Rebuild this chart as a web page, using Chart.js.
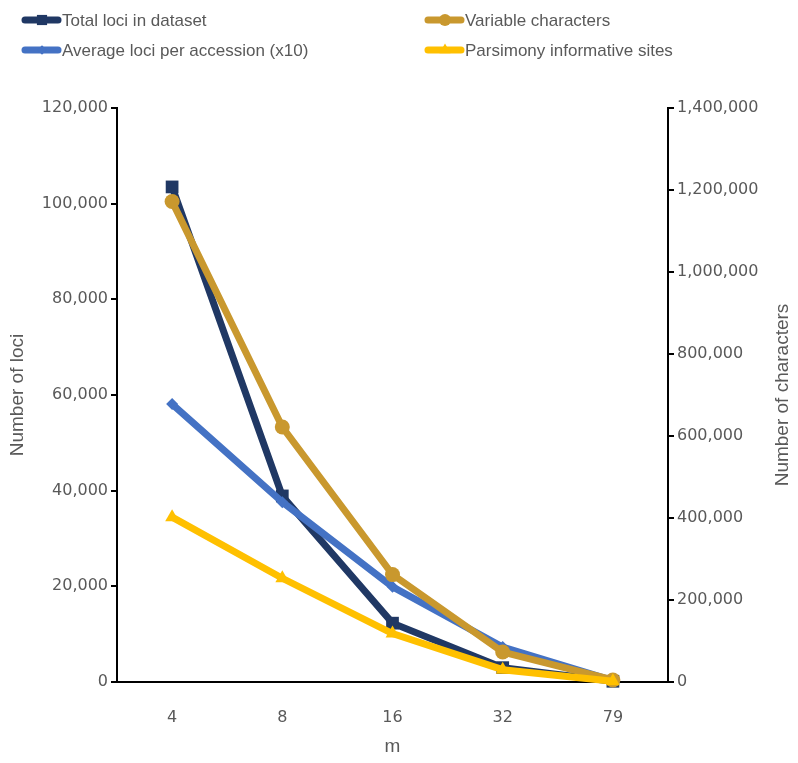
<!DOCTYPE html>
<html lang="en">
<head>
    <meta charset="UTF-8">
    <title>Loci and characters by m</title>
    <script src="https://cdn.jsdelivr.net/npm/chart.js@4.4.1/dist/chart.umd.min.js"></script>
    <style>
        html, body {
            margin: 0;
            padding: 0;
            background-color: #fff;
        }
        #wrap {
            position: relative;
            width: 798px;
            height: 763px;
        }
    </style>
</head>
<body>
    <div id="wrap">
        <canvas id="lociChart"></canvas>
    </div>

    <script>
        // values
        const mValues = ['4', '8', '16', '32', '79'];
        const totalLoci = [103500, 38900, 12300, 3000, 150];
        const avgLociX10 = [58100, 37600, 19900, 7300, 300];
        const variableChars = [1172000, 622000, 262000, 73000, 5000];
        const parsimonySites = [402000, 253000, 118000, 30000, 2000];

        const lociTicks = [0, 20000, 40000, 60000, 80000, 100000, 120000];
        const charTicks = [0, 200000, 400000, 600000, 800000, 1000000, 1200000, 1400000];

        const textColor = '#595959';
        const tickFont = { family: '"DejaVu Sans", sans-serif', size: 16 };
        const titleFont = { family: '"Liberation Sans", Arial, sans-serif', size: 19 };

        function fmt(v) {
            return Number(v).toLocaleString('en-US');
        }

        // legend drawn by hand: two columns, two rows
        const legendSlots = [
            { ds: 0, x: 22, y: 20 },
            { ds: 2, x: 425, y: 20 },
            { ds: 1, x: 22, y: 50 },
            { ds: 3, x: 425, y: 50 }
        ];

        const customLegend = {
            id: 'customLegend',
            afterDraw(chart) {
                const ctx = chart.ctx;
                ctx.save();
                legendSlots.forEach(slot => {
                    const ds = chart.data.datasets[slot.ds];
                    ctx.strokeStyle = ds.borderColor;
                    ctx.lineWidth = 7;
                    ctx.lineCap = 'round';
                    ctx.beginPath();
                    ctx.moveTo(slot.x + 3, slot.y);
                    ctx.lineTo(slot.x + 36, slot.y);
                    ctx.stroke();
                    ctx.fillStyle = ds.backgroundColor;
                    Chart.helpers.drawPoint(ctx, {
                        pointStyle: ds.pointStyle,
                        radius: ds.pointRadius * 0.8,
                        rotation: 0,
                        borderWidth: 0
                    }, slot.x + 20, slot.y);
                    ctx.fillStyle = textColor;
                    ctx.font = '17px "Liberation Sans", Arial, sans-serif';
                    ctx.textAlign = 'left';
                    ctx.textBaseline = 'middle';
                    ctx.fillText(ds.label, slot.x + 40, slot.y + 1);
                });
                ctx.restore();
            }
        };

        // right-hand title reads bottom to top like the left one
        const rightTitle = {
            id: 'rightTitle',
            afterDraw(chart) {
                const ctx = chart.ctx;
                const area = chart.chartArea;
                ctx.save();
                ctx.translate(783, (area.top + area.bottom) / 2);
                ctx.rotate(-Math.PI / 2);
                ctx.fillStyle = textColor;
                ctx.font = titleFont.size + 'px "Liberation Sans", Arial, sans-serif';
                ctx.textAlign = 'center';
                ctx.textBaseline = 'middle';
                ctx.fillText('Number of characters', 0, 0);
                ctx.restore();
            }
        };

        const ctx = document.getElementById('lociChart').getContext('2d');
        const lociChart = new Chart(ctx, {
            type: 'line',
            data: {
                labels: mValues,
                datasets: [
                    {
                        label: 'Total loci in dataset',
                        data: totalLoci,
                        yAxisID: 'y',
                        borderColor: '#203864',
                        backgroundColor: '#203864',
                        pointStyle: 'rect',
                        pointRadius: 9,
                        order: 4
                    },
                    {
                        label: 'Average loci per accession (x10)',
                        data: avgLociX10,
                        yAxisID: 'y',
                        borderColor: '#4472C4',
                        backgroundColor: '#4472C4',
                        pointStyle: 'rectRot',
                        pointRadius: 6,
                        order: 3
                    },
                    {
                        label: 'Variable characters',
                        data: variableChars,
                        yAxisID: 'y2',
                        borderColor: '#C9982E',
                        backgroundColor: '#C9982E',
                        pointStyle: 'circle',
                        pointRadius: 7.5,
                        order: 2
                    },
                    {
                        label: 'Parsimony informative sites',
                        data: parsimonySites,
                        yAxisID: 'y2',
                        borderColor: '#FFC000',
                        backgroundColor: '#FFC000',
                        pointStyle: 'triangle',
                        pointRadius: 8,
                        order: 1
                    }
                ]
            },
            options: {
                responsive: true,
                maintainAspectRatio: false,
                devicePixelRatio: 1,
                animation: false,
                datasets: {
                    line: {
                        borderWidth: 7,
                        tension: 0,
                        pointBorderWidth: 0,
                        pointHoverRadius: 8,
                        clip: false
                    }
                },
                layout: {
                    padding: { top: 108, left: 0, right: 0, bottom: 0 }
                },
                plugins: {
                    legend: { display: false },
                    tooltip: { enabled: false }
                },
                scales: {
                    x: {
                        type: 'category',
                        offset: true,
                        grid: { display: false },
                        border: { display: true, color: '#000', width: 2 },
                        ticks: { color: textColor, font: tickFont, padding: 18 },
                        title: {
                            display: true,
                            text: 'm',
                            color: textColor,
                            font: titleFont,
                            padding: { top: 0, bottom: 5 }
                        },
                        afterFit: s => { s.height = 81; }
                    },
                    y: {
                        position: 'left',
                        min: 0,
                        max: 120000,
                        afterBuildTicks: s => { s.ticks = lociTicks.map(v => ({ value: v })); },
                        grid: {
                            drawOnChartArea: false,
                            drawTicks: true,
                            tickLength: 6,
                            color: '#000',
                            lineWidth: 2
                        },
                        border: { display: true, color: '#000', width: 2 },
                        ticks: {
                            color: textColor,
                            font: tickFont,
                            padding: 3,
                            callback: v => fmt(v)
                        },
                        title: {
                            display: true,
                            text: 'Number of loci',
                            color: textColor,
                            font: titleFont,
                            padding: { top: 6, bottom: 0 }
                        },
                        afterFit: s => { s.width = 117; }
                    },
                    y2: {
                        position: 'right',
                        min: 0,
                        max: 1400000,
                        afterBuildTicks: s => { s.ticks = charTicks.map(v => ({ value: v })); },
                        grid: {
                            drawOnChartArea: false,
                            drawTicks: true,
                            tickLength: 6,
                            color: '#000',
                            lineWidth: 2
                        },
                        border: { display: true, color: '#000', width: 2 },
                        ticks: {
                            color: textColor,
                            font: tickFont,
                            padding: 3,
                            callback: v => fmt(v)
                        },
                        afterFit: s => { s.width = 130; }
                    }
                }
            },
            plugins: [customLegend, rightTitle]
        });
    </script>
</body>
</html>
